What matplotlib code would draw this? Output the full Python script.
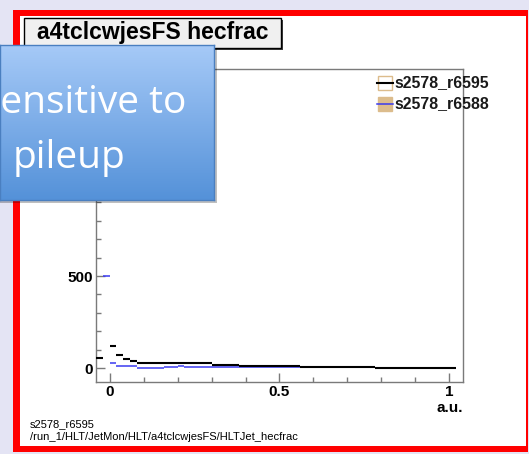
import numpy as np
import matplotlib
matplotlib.use("Agg")
import matplotlib.pyplot as plt
from matplotlib.patches import Rectangle

# ---------------- data ----------------
bin_edges_lo = -0.04
bin_width = 0.02
# s2578_r6595 (black), one value per 0.02 bin from -0.04 to 1.04
black_vals = [54, 1550, 120, 71, 49, 38, 29,
              26, 26, 26, 26, 26, 26, 26, 26, 26, 26,
              18, 18, 18, 18,
              13, 13, 13, 13, 13,
              11, 11, 11, 11,
              6, 6, 6, 6, 6, 6, 6, 6, 6, 6, 6,
              2, 2, 2, 2, 2, 2, 2, 2, 2, 2, 2, 2]
# s2578_r6588 (blue)
blue_vals = [np.nan, 500, 29, 11, 11, 11, 1, 1, 1, 1,
             8, 5, 9, 6,
             3, 3, 3, 3, 3, 3, 3, 3, 3, 3, 3, 3, 3, 3, 3, 3,
             5, 5, 5, 5, 5, 5, 5, 5, 5, 5, 5,
             0, 0, 0, 0, 0, 0, 0, 0, 0, 0, 0, 0]
legend_labels = ["s2578_r6595", "s2578_r6588"]
title_text = "a4tclcwjesFS hecfrac"
x_label = "a.u."
footer_lines = ["s2578_r6595", "/run_1/HLT/JetMon/HLT/a4tclcwjesFS/HLTJet_hecfrac"]
overlay_lines = ["Sensitive to", "pileup"]

W, H = 529, 454
fig = plt.figure(figsize=(W / 100, H / 100), dpi=100)
fig.patch.set_facecolor("#e4e4f4")

def fx(px):
    return px / W

def fy(py):
    return 1 - py / H

def frect(x0, y0, x1, y1, **kw):
    return Rectangle((fx(x0), fy(y1)), fx(x1) - fx(x0), (y1 - y0) / H,
                     transform=fig.transFigure, **kw)

# red frame and white canvas
fig.patches.append(frect(13, 10, 528, 452, facecolor="#ff0000", edgecolor="none", zorder=-2))
fig.patches.append(frect(20, 16, 526, 446, facecolor="white", edgecolor="none", zorder=-1))

# ---------------- axes ----------------
ax = fig.add_axes([fx(96), fy(382), fx(463) - fx(96), (382 - 69) / H], zorder=2)
ax.set_facecolor("white")
ax.set_xlim(-0.04, 1.04)
ax.set_ylim(-76, 1625)

n = len(black_vals)
lefts = bin_edges_lo + bin_width * np.arange(n)
rights = lefts + bin_width
blue = np.array(blue_vals, dtype=float)
mask = ~np.isnan(blue)
ax.hlines(blue[mask], lefts[mask], rights[mask], colors="#3a3af0", lw=1.1, zorder=3)
ax.hlines(black_vals, lefts, rights, colors="black", lw=1.5, zorder=4)

frame_col = "#7a7a7a"
for s in ax.spines.values():
    s.set_color(frame_col)
    s.set_linewidth(1.0)
ax.set_yticks([0, 500, 1000, 1500])
ax.set_yticks(np.arange(0, 1700, 100), minor=True)
ax.set_xticks([0, 0.5, 1])
ax.set_xticks(np.arange(0, 1.05, 0.1), minor=True)
ax.set_xticklabels(["0", "0.5", "1"])
ax.set_yticklabels(["0", "500", "1000", "1500"])
ax.tick_params(which="both", direction="in", color=frame_col, width=1.0,
               top=False, right=False, labelsize=11)
ax.tick_params(which="major", length=6.5, pad=2)
ax.tick_params(which="minor", length=3.6)
for lab in ax.get_xticklabels() + ax.get_yticklabels():
    lab.set_fontfamily("Liberation Sans")
    lab.set_fontweight("bold")
ax.text(1.0, -0.06, x_label, transform=ax.transAxes, ha="right", va="top",
        fontsize=11, fontweight="bold", family="Liberation Sans")

# legend (manual)
leg_y = [83, 104]
tan = "#dcbc8c"
fig.patches.append(frect(378, leg_y[0] - 7, 392, leg_y[0] + 7, facecolor="white",
                         edgecolor=tan, lw=1.0, zorder=5))
fig.patches.append(frect(378, leg_y[1] - 7, 392, leg_y[1] + 7, facecolor=tan,
                         edgecolor=tan, lw=1.0, zorder=5))
fig.lines.append(plt.Line2D([fx(377), fx(393)], [fy(leg_y[0])] * 2, color="black",
                            lw=1.5, transform=fig.transFigure, zorder=6))
fig.lines.append(plt.Line2D([fx(377), fx(393)], [fy(leg_y[1])] * 2, color="#3a3af0",
                            lw=1.1, transform=fig.transFigure, zorder=6))
for lab, yy in zip(legend_labels, leg_y):
    fig.text(fx(394), fy(yy), lab, ha="left", va="center", fontsize=11.4,
             fontweight="bold", family="Liberation Sans", color="#1a1a1a", zorder=7)

# title box
fig.patches.append(frect(26, 20, 283, 50, facecolor="#404040", edgecolor="none", zorder=5))
fig.patches.append(frect(24, 18, 281, 48, facecolor="#f0f0f0", edgecolor="black",
                         lw=1.0, zorder=6))
fig.text(fx(153), fy(33), title_text, ha="center", va="center", fontsize=16.5,
         fontweight="bold", family="Liberation Sans", zorder=7)

# footer
fig.text(fx(30), fy(424), footer_lines[0], ha="left", va="center", fontsize=8,
         family="Liberation Sans", zorder=7)
fig.text(fx(30), fy(437), footer_lines[1], ha="left", va="center", fontsize=8,
         family="Liberation Sans", zorder=7)

# overlay callout box
fig.patches.append(frect(0, 48, 217, 203, facecolor="#000000", alpha=0.25,
                         edgecolor="none", zorder=8))
oax = fig.add_axes([0, fy(200), fx(214), (200 - 45) / H], zorder=9)
grad = np.linspace(0, 1, 256)[:, None]
top = np.array([0.65, 0.79, 0.97])
bot = np.array([0.33, 0.57, 0.85])
img = top[None, None, :] * (1 - grad[:, :, None]) + bot[None, None, :] * grad[:, :, None]
oax.imshow(img, aspect="auto", extent=[0, 1, 0, 1])
oax.set_xticks([])
oax.set_yticks([])
for s in oax.spines.values():
    s.set_color("#4a7fc0")
    s.set_linewidth(1.0)
fig.text(fx(186), fy(113), overlay_lines[0], ha="right", va="baseline", fontsize=28,
         family="Open Sans", color="white", zorder=10)
fig.text(fx(13), fy(168), overlay_lines[1], ha="left", va="baseline", fontsize=28,
         family="Open Sans", color="white", zorder=10)

fig.savefig("out.png", dpi=100, facecolor=fig.get_facecolor())
